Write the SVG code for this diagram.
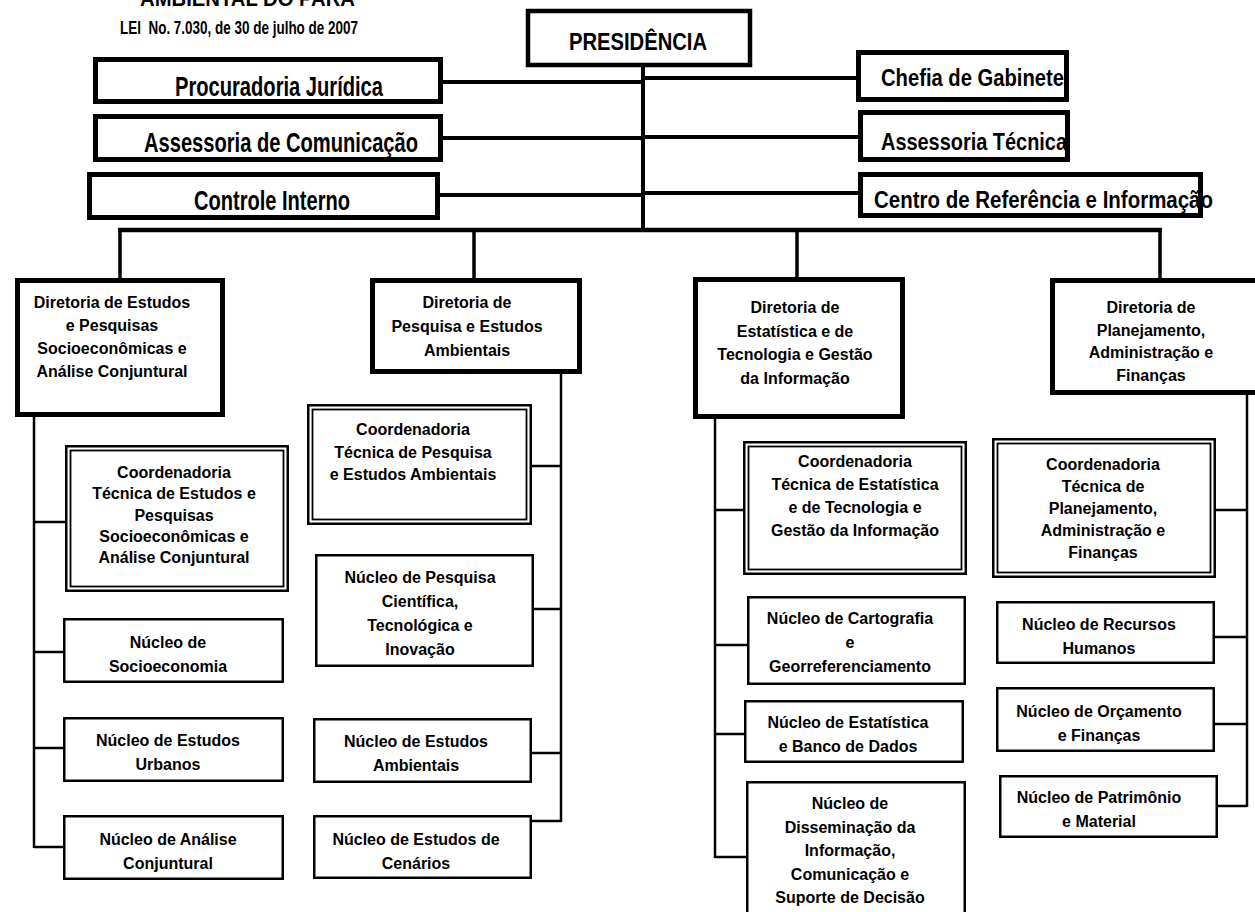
<svg xmlns="http://www.w3.org/2000/svg" width="1255" height="912" viewBox="0 0 1255 912">
<style>
.bg{fill:#fff}
.b5{fill:#fff;stroke:#000;stroke-width:5}
.b4{fill:#fff;stroke:#000;stroke-width:4.5}
.nb{fill:#fff;stroke:#000;stroke-width:2.5}
.co{fill:#fff;stroke:#000;stroke-width:2.5}
.ci{fill:none;stroke:#000;stroke-width:1.8}
.ln{fill:none;stroke:#000;stroke-linecap:butt}
.t{font-family:"Liberation Sans",Arial,sans-serif;font-weight:bold;font-size:16px;text-anchor:middle;fill:#000}
.h{font-family:"Liberation Sans",Arial,sans-serif;font-weight:bold;fill:#000}
</style>
<rect class="bg" x="0" y="0" width="1255" height="912"/>

<g id="header">
<text class="h" x="140" y="6" font-size="22" textLength="215" lengthAdjust="spacingAndGlyphs">AMBIENTAL DO PARÁ</text>
<text class="h" x="120" y="34" font-size="18" textLength="238" lengthAdjust="spacingAndGlyphs" xml:space="preserve">LEI  No. 7.030, de 30 de julho de 2007</text>
</g>

<g id="connectors">
<g class="ln" stroke-width="4">
<line x1="643" y1="67" x2="643" y2="232"/>
<line x1="443" y1="82" x2="643" y2="82"/>
<line x1="443" y1="138" x2="643" y2="138"/>
<line x1="440" y1="195" x2="643" y2="195"/>
<line x1="643" y1="78" x2="856" y2="78"/>
<line x1="643" y1="137" x2="858" y2="137"/>
<line x1="643" y1="193" x2="858" y2="193"/>
</g>
<line class="ln" stroke-width="4.5" x1="118" y1="230" x2="1162" y2="230"/>
<g class="ln" stroke-width="3.5">
<line x1="120" y1="230" x2="120" y2="278"/>
<line x1="474" y1="230" x2="474" y2="278"/>
<line x1="797" y1="230" x2="797" y2="277"/>
<line x1="1160" y1="230" x2="1160" y2="278"/>
</g>
<g class="ln" stroke-width="2.5">
<line x1="34" y1="417" x2="34" y2="848"/>
<line x1="34" y1="522" x2="65" y2="522"/>
<line x1="34" y1="652" x2="63" y2="652"/>
<line x1="34" y1="748" x2="63" y2="748"/>
<line x1="34" y1="847" x2="63" y2="847"/>
<line x1="561" y1="374" x2="561" y2="822"/>
<line x1="532" y1="466" x2="561" y2="466"/>
<line x1="534" y1="609" x2="561" y2="609"/>
<line x1="532" y1="753" x2="561" y2="753"/>
<line x1="532" y1="821" x2="561" y2="821"/>
<line x1="715" y1="419" x2="715" y2="858"/>
<line x1="715" y1="510" x2="743" y2="510"/>
<line x1="715" y1="645" x2="747" y2="645"/>
<line x1="715" y1="734" x2="744" y2="734"/>
<line x1="715" y1="857" x2="746" y2="857"/>
<line x1="1247" y1="395" x2="1247" y2="807"/>
<line x1="1216" y1="510" x2="1247" y2="510"/>
<line x1="1215" y1="637" x2="1247" y2="637"/>
<line x1="1215" y1="724" x2="1247" y2="724"/>
<line x1="1218" y1="806" x2="1247" y2="806"/>
</g>
</g>

<g id="presidencia">
<rect class="b4" x="528" y="11" width="222" height="54"/>
<text class="h" x="569" y="50" font-size="23" textLength="138" lengthAdjust="spacingAndGlyphs">PRESIDÊNCIA</text>
</g>

<g id="procuradoria">
<rect class="b5" x="95.5" y="59.5" width="345" height="42"/>
<text class="h" x="175" y="96" font-size="28" textLength="208" lengthAdjust="spacingAndGlyphs">Procuradoria Jurídica</text>
</g>
<g id="assessoria-comunicacao">
<rect class="b5" x="95.5" y="116.5" width="345" height="43"/>
<text class="h" x="144" y="152" font-size="28" textLength="274" lengthAdjust="spacingAndGlyphs">Assessoria de Comunicação</text>
</g>
<g id="controle-interno">
<rect class="b5" x="89.5" y="174.5" width="348" height="43"/>
<text class="h" x="194" y="210" font-size="28" textLength="156" lengthAdjust="spacingAndGlyphs">Controle Interno</text>
</g>
<g id="chefia-gabinete">
<rect class="b5" x="858.5" y="52.5" width="208" height="47"/>
<text class="h" x="881" y="86" font-size="24" textLength="183" lengthAdjust="spacingAndGlyphs">Chefia de Gabinete</text>
</g>
<g id="assessoria-tecnica">
<rect class="b5" x="860.5" y="112.5" width="207" height="47"/>
<text class="h" x="881" y="150" font-size="24" textLength="186" lengthAdjust="spacingAndGlyphs">Assessoria Técnica</text>
</g>
<g id="centro-referencia">
<rect class="b5" x="860.5" y="174.5" width="340" height="41"/>
<text class="h" x="874" y="208" font-size="24" textLength="339" lengthAdjust="spacingAndGlyphs">Centro de Referência e Informação</text>
</g>

<!-- Column 1 -->
<g id="dir-estudos-socioeconomicos">
<rect class="b5" x="17.5" y="280.5" width="205" height="134"/>
<text class="t" x="112" y="308"><tspan x="112">Diretoria de Estudos</tspan><tspan x="112" dy="23">e Pesquisas</tspan><tspan x="112" dy="23">Socioeconômicas e</tspan><tspan x="112" dy="23">Análise Conjuntural</tspan></text>
</g>
<g id="coord-estudos-socioeconomicos">
<rect class="co" x="66.25" y="446.25" width="221.5" height="144.5"/>
<rect class="ci" x="70.5" y="450.5" width="213" height="136"/>
<text class="t" x="174" y="478"><tspan x="174">Coordenadoria</tspan><tspan x="174" dy="21.3">Técnica de Estudos e</tspan><tspan x="174" dy="21.3">Pesquisas</tspan><tspan x="174" dy="21.3">Socioeconômicas e</tspan><tspan x="174" dy="21.3">Análise Conjuntural</tspan></text>
</g>
<g id="nucleo-socioeconomia">
<rect class="nb" x="64.25" y="619.25" width="218.5" height="62.5"/>
<text class="t" x="168" y="648"><tspan x="168">Núcleo de</tspan><tspan x="168" dy="24">Socioeconomia</tspan></text>
</g>
<g id="nucleo-estudos-urbanos">
<rect class="nb" x="64.25" y="718.25" width="218.5" height="62.5"/>
<text class="t" x="168" y="746"><tspan x="168">Núcleo de Estudos</tspan><tspan x="168" dy="24">Urbanos</tspan></text>
</g>
<g id="nucleo-analise-conjuntural">
<rect class="nb" x="64.25" y="816.25" width="218.5" height="62.5"/>
<text class="t" x="168" y="845"><tspan x="168">Núcleo de Análise</tspan><tspan x="168" dy="24">Conjuntural</tspan></text>
</g>

<!-- Column 2 -->
<g id="dir-pesquisa-ambientais">
<rect class="b5" x="372.5" y="280.5" width="207" height="91"/>
<text class="t" x="467" y="308"><tspan x="467">Diretoria de</tspan><tspan x="467" dy="24">Pesquisa e Estudos</tspan><tspan x="467" dy="24">Ambientais</tspan></text>
</g>
<g id="coord-pesquisa-ambientais">
<rect class="co" x="308.25" y="405.25" width="222.5" height="118.5"/>
<rect class="ci" x="312.5" y="409.5" width="214" height="110"/>
<text class="t" x="413" y="435"><tspan x="413">Coordenadoria</tspan><tspan x="413" dy="22.5">Técnica de Pesquisa</tspan><tspan x="413" dy="22.5">e Estudos Ambientais</tspan></text>
</g>
<g id="nucleo-pesquisa-cientifica">
<rect class="nb" x="316.25" y="555.25" width="216.5" height="110.5"/>
<text class="t" x="420" y="583"><tspan x="420">Núcleo de Pesquisa</tspan><tspan x="420" dy="24">Científica,</tspan><tspan x="420" dy="24">Tecnológica e</tspan><tspan x="420" dy="24">Inovação</tspan></text>
</g>
<g id="nucleo-estudos-ambientais">
<rect class="nb" x="314.25" y="719.25" width="216.5" height="62.5"/>
<text class="t" x="416" y="747"><tspan x="416">Núcleo de Estudos</tspan><tspan x="416" dy="24">Ambientais</tspan></text>
</g>
<g id="nucleo-estudos-cenarios">
<rect class="nb" x="314.25" y="816.25" width="216.5" height="61.5"/>
<text class="t" x="416" y="845"><tspan x="416">Núcleo de Estudos de</tspan><tspan x="416" dy="24">Cenários</tspan></text>
</g>

<!-- Column 3 -->
<g id="dir-estatistica-tecnologia">
<rect class="b5" x="695.5" y="279.5" width="207" height="137"/>
<text class="t" x="795" y="313"><tspan x="795">Diretoria de</tspan><tspan x="795" dy="23.7">Estatística e de</tspan><tspan x="795" dy="23.7">Tecnologia e Gestão</tspan><tspan x="795" dy="23.7">da Informação</tspan></text>
</g>
<g id="coord-estatistica-tecnologia">
<rect class="co" x="744.25" y="442.25" width="221.5" height="131.5"/>
<rect class="ci" x="748.5" y="446.5" width="213" height="123"/>
<text class="t" x="855" y="467"><tspan x="855">Coordenadoria</tspan><tspan x="855" dy="23">Técnica de Estatística</tspan><tspan x="855" dy="23">e de Tecnologia e</tspan><tspan x="855" dy="23">Gestão da Informação</tspan></text>
</g>
<g id="nucleo-cartografia">
<rect class="nb" x="748.25" y="597.25" width="216.5" height="86.5"/>
<text class="t" x="850" y="624"><tspan x="850">Núcleo de Cartografia</tspan><tspan x="850" dy="24">e</tspan><tspan x="850" dy="24">Georreferenciamento</tspan></text>
</g>
<g id="nucleo-estatistica">
<rect class="nb" x="745.25" y="701.25" width="217.5" height="60.5"/>
<text class="t" x="848" y="728"><tspan x="848">Núcleo de Estatística</tspan><tspan x="848" dy="24">e Banco de Dados</tspan></text>
</g>
<g id="nucleo-disseminacao">
<rect class="nb" x="747.25" y="782.25" width="217.5" height="140"/>
<text class="t" x="850" y="809"><tspan x="850">Núcleo de</tspan><tspan x="850" dy="23.5">Disseminação da</tspan><tspan x="850" dy="23.5">Informação,</tspan><tspan x="850" dy="23.5">Comunicação e</tspan><tspan x="850" dy="23.5">Suporte de Decisão</tspan></text>
</g>

<!-- Column 4 -->
<g id="dir-planejamento">
<rect class="b5" x="1052.5" y="280.5" width="212" height="112"/>
<text class="t" x="1151" y="313"><tspan x="1151">Diretoria de</tspan><tspan x="1151" dy="22.7">Planejamento,</tspan><tspan x="1151" dy="22.7">Administração e</tspan><tspan x="1151" dy="22.7">Finanças</tspan></text>
</g>
<g id="coord-planejamento">
<rect class="co" x="993.25" y="439.25" width="221.5" height="137.5"/>
<rect class="ci" x="997.5" y="443.5" width="213" height="129"/>
<text class="t" x="1103" y="470"><tspan x="1103">Coordenadoria</tspan><tspan x="1103" dy="22">Técnica de</tspan><tspan x="1103" dy="22">Planejamento,</tspan><tspan x="1103" dy="22">Administração e</tspan><tspan x="1103" dy="22">Finanças</tspan></text>
</g>
<g id="nucleo-recursos-humanos">
<rect class="nb" x="997.25" y="602.25" width="216.5" height="60.5"/>
<text class="t" x="1099" y="630"><tspan x="1099">Núcleo de Recursos</tspan><tspan x="1099" dy="24">Humanos</tspan></text>
</g>
<g id="nucleo-orcamento">
<rect class="nb" x="997.25" y="688.25" width="216.5" height="62.5"/>
<text class="t" x="1099" y="717"><tspan x="1099">Núcleo de Orçamento</tspan><tspan x="1099" dy="23.5">e Finanças</tspan></text>
</g>
<g id="nucleo-patrimonio">
<rect class="nb" x="1000.25" y="776.25" width="216.5" height="60.5"/>
<text class="t" x="1099" y="803"><tspan x="1099">Núcleo de Patrimônio</tspan><tspan x="1099" dy="24">e Material</tspan></text>
</g>
</svg>
